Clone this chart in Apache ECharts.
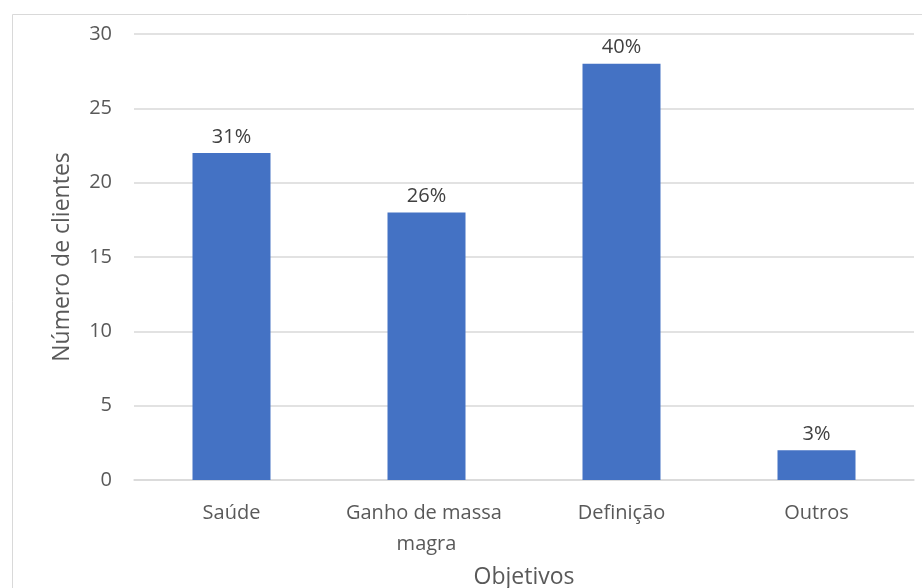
<!DOCTYPE html>
<html>
<head>
<meta charset="utf-8">
<script src="https://cdn.jsdelivr.net/npm/echarts@6/dist/echarts.min.js"></script>
<style>html,body{margin:0;padding:0;background:#fff}#c{width:922px;height:588px}</style>
</head>
<body>
<div id="c"></div>
<script>
var categories = ['Saúde', 'Ganho de massa magra', 'Definição', 'Outros'];
var clientes = [22, 18, 28, 2];
var percentLabels = ['31%', '26%', '40%', '3%'];
var yTicks = { min: 0, max: 30, interval: 5 };

var FONT = '"Open Sans", sans-serif';
var TXT = '#595959';
var chart = echarts.init(document.getElementById('c'));
chart.setOption({
  animation: false,
  graphic: [{
    type: 'rect', left: 10, top: 12, silent: true,
    shape: { width: 940, height: 620 },
    style: { fill: 'none', stroke: '#d9d9d9', lineWidth: 1 }
  }],
  grid: { left: 134, right: 8, top: 34, bottom: 108, containLabel: false, outerBoundsMode: 'none' },
  xAxis: {
    type: 'category',
    data: categories,
    name: 'Objetivos',
    nameLocation: 'middle',
    nameGap: 86,
    nameTextStyle: { fontFamily: FONT, fontSize: 23, color: TXT },
    axisLine: { lineStyle: { color: '#d9d9d9', width: 1.5 } },
    axisTick: { show: false },
    axisLabel: {
      interval: 0,
      fontFamily: FONT, fontSize: 20, color: TXT, margin: 18,
      width: 175, overflow: 'break', lineHeight: 31
    }
  },
  yAxis: {
    type: 'value',
    min: yTicks.min, max: yTicks.max, interval: yTicks.interval,
    name: 'Número de clientes',
    nameLocation: 'middle',
    nameGap: 60,
    nameTextStyle: { fontFamily: FONT, fontSize: 23, color: TXT },
    axisLine: { show: false },
    axisTick: { show: false },
    axisLabel: { fontFamily: FONT, fontSize: 20, color: TXT, margin: 22 },
    splitLine: { lineStyle: { color: '#d9d9d9', width: 1.5 } }
  },
  series: [{
    type: 'bar',
    data: clientes,
    barWidth: '40%',
    itemStyle: { color: '#4472c4' },
    label: {
      show: true, position: 'top', distance: 6,
      fontFamily: FONT, fontSize: 20, color: '#404040',
      formatter: function (p) { return percentLabels[p.dataIndex]; }
    }
  }]
});
</script>
</body>
</html>
